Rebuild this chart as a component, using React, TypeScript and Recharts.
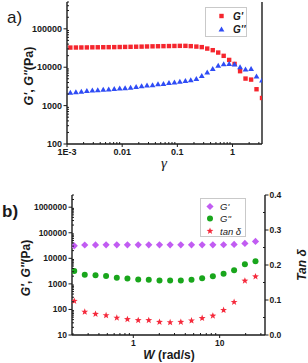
import React from "react";
import { ScatterChart, Scatter, XAxis, YAxis, Legend } from "recharts";

// ---- panel a) strain sweep ----
const strain = [
  0.00115, 0.00145, 0.00182, 0.00229, 0.00288, 0.00361, 0.00454, 0.0057, 0.00718,
  0.00902, 0.0113, 0.0142, 0.0179, 0.0225, 0.0282, 0.0355, 0.0446, 0.056, 0.0705,
  0.0885, 0.111, 0.14, 0.175, 0.221, 0.277, 0.348, 0.438, 0.55, 0.691, 0.869, 1.09,
  1.37, 1.72, 2.17, 2.72, 3.42,
];
const storageA = [
  32500, 32600, 32700, 32800, 33000, 33100, 33200, 33300, 33400, 33600, 33800, 34000,
  34200, 34400, 34700, 35000, 35200, 35400, 35600, 35800, 36000, 36000, 35400, 34500,
  33400, 30600, 27800, 24100, 19800, 15500, 12200, 7880, 5060, 4760, 2670, 1580,
];
const lossA = [
  2150, 2230, 2300, 2400, 2460, 2520, 2570, 2610, 2720, 2770, 2840, 2940, 3070, 3200,
  3320, 3400, 3610, 3680, 3900, 4020, 4200, 4380, 4590, 4960, 5950, 7250, 9050, 11000,
  12000, 12200, 11700, 10000, 8680, 8940, 5700, 4480,
];

// ---- panel b) frequency sweep ----
const freq = [
  0.207, 0.274, 0.365, 0.484, 0.644, 0.855, 1.14, 1.51, 2.01, 2.67, 3.55, 4.72, 6.27,
  8.34, 11.1, 14.7, 19.6, 26.0,
];
const storageB = [
  30800, 33200, 33500, 33600, 33600, 33600, 33600, 33600, 33600, 33600, 33600, 33600,
  33600, 33600, 34000, 35000, 38200, 45700,
];
const lossB = [
  3200, 2300, 2200, 2050, 1750, 1620, 1500, 1460, 1350, 1350, 1360, 1450, 1650, 2000,
  2500, 3400, 5900, 7700,
];
const tanDelta = [
  0.097, 0.066, 0.06, 0.056, 0.049, 0.045, 0.042, 0.042, 0.037, 0.036, 0.037, 0.041,
  0.048, 0.055, 0.071, 0.094, 0.155, 0.167,
];

// ---- ticks ----
const strainTicks = [
  0.001, 0.002, 0.003, 0.004, 0.005, 0.006, 0.007, 0.008, 0.009, 0.01, 0.02, 0.03, 0.04,
  0.05, 0.06, 0.07, 0.08, 0.09, 0.1, 0.2, 0.3, 0.4, 0.5, 0.6, 0.7, 0.8, 0.9, 1, 2, 3,
];
const strainLabels: Record<string, string> = { "0.001": "1E-3", "0.01": "0.01", "0.1": "0.1", "1": "1" };
const modA_Ticks = [
  100, 200, 300, 400, 500, 600, 700, 800, 900, 1000, 2000, 3000, 4000, 5000, 6000, 7000,
  8000, 9000, 10000, 20000, 30000, 40000, 50000, 60000, 70000, 80000, 90000, 100000,
  200000, 300000, 400000, 500000,
];
const modA_Labels: Record<string, string> = { "100": "100", "1000": "1000", "10000": "10000", "100000": "100000" };
const freqTicks = [
  0.2, 0.3, 0.4, 0.5, 0.6, 0.7, 0.8, 0.9, 1, 2, 3, 4, 5, 6, 7, 8, 9, 10, 20, 30,
];
const freqLabels: Record<string, string> = { "1": "1", "10": "10" };
const modB_Ticks = [
  10, 20, 30, 40, 50, 60, 70, 80, 90, 100, 200, 300, 400, 500, 600, 700, 800, 900, 1000,
  2000, 3000, 4000, 5000, 6000, 7000, 8000, 9000, 10000, 20000, 30000, 40000, 50000,
  60000, 70000, 80000, 90000, 100000, 200000, 300000, 400000, 500000, 600000, 700000,
  800000, 900000, 1000000, 2000000, 3000000,
];
const modB_Labels: Record<string, string> = {
  "10": "10", "100": "100", "1000": "1000", "10000": "10000", "100000": "100000", "1000000": "1000000",
};
const tanTicks = [0, 0.05, 0.1, 0.15, 0.2, 0.25, 0.3, 0.35, 0.4];
const tanLabels: Record<string, string> = { "0": "0.0", "0.1": "0.1", "0.2": "0.2", "0.3": "0.3", "0.4": "0.4" };

const FONT = "'Liberation Sans', Arial, sans-serif";
const INK = "#1a1a1a";
const RED = "#f5262e";
const BLUE = "#2f4cf5";
const PURPLE = "#c15cf2";
const GREEN = "#19a61c";
const STAR_RED = "#f52a3c";

const pairs = (xs: number[], ys: number[]) => xs.map((x, i) => ({ x, y: ys[i] }));

// markers
const Square = ({ cx, cy }: any) => <rect x={cx - 2.2} y={cy - 2.2} width={4.4} height={4.4} fill={RED} />;
const Triangle = ({ cx, cy }: any) => (
  <polygon points={`${cx},${cy - 3} ${cx + 2.9},${cy + 2} ${cx - 2.9},${cy + 2}`} fill={BLUE} />
);
const Diamond = ({ cx, cy }: any) => (
  <polygon points={`${cx},${cy - 3.6} ${cx + 3.6},${cy} ${cx},${cy + 3.6} ${cx - 3.6},${cy}`} fill={PURPLE} />
);
const Dot = ({ cx, cy }: any) => <circle cx={cx} cy={cy} r={3} fill={GREEN} />;
const Star = ({ cx, cy }: any) => {
  const pts: string[] = [];
  for (let i = 0; i < 10; i++) {
    const r = i % 2 === 0 ? 3.6 : 1.5;
    const a = -Math.PI / 2 + (i * Math.PI) / 5;
    pts.push(`${cx + r * Math.cos(a)},${cy + r * Math.sin(a)}`);
  }
  return <polygon points={pts.join(" ")} fill={STAR_RED} />;
};

// axis tick: labelled values get an outside tick and text, others a short inside tick
const makeTick = (side: "bottom" | "left" | "right", labels: Record<string, string>, fs: number, gap: number) =>
  (props: any) => {
    const { x, y, payload } = props;
    const text = labels[String(payload.value)];
    const major = text !== undefined;
    const st = { stroke: INK, strokeWidth: 1 };
    if (side === "bottom") {
      return (
        <g>
          {major ? <line x1={x} y1={y} x2={x} y2={y + 3} {...st} /> : <line x1={x} y1={y} x2={x} y2={y - 2} {...st} />}
          {major && (
            <text x={x} y={y + gap + fs * 0.7} textAnchor="middle" fontSize={fs} fontWeight="bold" fontFamily={FONT} fill={INK}>
              {text}
            </text>
          )}
        </g>
      );
    }
    if (side === "left") {
      return (
        <g>
          {major ? <line x1={x - 3.5} y1={y} x2={x} y2={y} {...st} /> : <line x1={x} y1={y} x2={x + 2} y2={y} {...st} />}
          {major && (
            <text x={x - gap} y={y + fs * 0.35} textAnchor="end" fontSize={fs} fontWeight="bold" fontFamily={FONT} fill={INK}>
              {text}
            </text>
          )}
        </g>
      );
    }
    return (
      <g>
        {major ? <line x1={x} y1={y} x2={x + 3.5} y2={y} {...st} /> : <line x1={x - 2} y1={y} x2={x} y2={y} {...st} />}
        {major && (
          <text x={x + gap} y={y + fs * 0.35} textAnchor="start" fontSize={fs} fontWeight="bold" fontFamily={FONT} fill={INK}>
            {text}
          </text>
        )}
      </g>
    );
  };

const axisLine = { stroke: INK, strokeWidth: 1.4 };

const LegendA = () => (
  <div style={{ width: 42, height: 30, border: "1px solid #c9c9c9", boxSizing: "border-box", position: "relative", background: "#fff" }}>
    <svg width={42} height={30} style={{ position: "absolute", left: -1, top: -1 }}>
      <Square cx={16.5} cy={9} />
      <Triangle cx={16.5} cy={22.5} />
      <text x={28} y={12.5} fontSize={10} fontWeight="bold" fontStyle="italic" fontFamily={FONT} fill={INK}>G'</text>
      <text x={28} y={26} fontSize={10} fontWeight="bold" fontStyle="italic" fontFamily={FONT} fill={INK}>G''</text>
    </svg>
  </div>
);

const LegendB = () => (
  <div style={{ width: 46, height: 39, border: "1px solid #c9c9c9", boxSizing: "border-box", position: "relative", background: "#fff" }}>
    <svg width={46} height={39} style={{ position: "absolute", left: -1, top: -1 }}>
      <Diamond cx={10} cy={8.5} />
      <Dot cx={10} cy={20.5} />
      <Star cx={10} cy={33} />
      <text x={20} y={12} fontSize={9.5} fontStyle="italic" fontFamily={FONT} fill={INK}>G'</text>
      <text x={20} y={24} fontSize={9.5} fontStyle="italic" fontFamily={FONT} fill={INK}>G''</text>
      <text x={20} y={36.5} fontSize={9.5} fontStyle="italic" fontFamily={FONT} fill={INK}>tan δ</text>
    </svg>
  </div>
);

const rot = (cx: number, cy: number): React.CSSProperties => ({
  position: "absolute",
  left: cx,
  top: cy,
  transform: "translate(-50%, -50%) rotate(-90deg)",
  whiteSpace: "nowrap",
  fontFamily: FONT,
  fontWeight: "bold",
  color: INK,
  lineHeight: 1,
});

const App = () => {
  const dataA1 = pairs(strain, storageA);
  const dataA2 = pairs(strain, lossA);
  const dataB1 = pairs(freq, storageB);
  const dataB2 = pairs(freq, lossB);
  const dataB3 = pairs(freq, tanDelta);

  return (
    <div style={{ position: "absolute", left: 0, top: 0, width: 308, height: 363, background: "#fff", overflow: "hidden" }}>
      {/* panel a */}
      <div style={{ position: "absolute", left: 0, top: 0 }}>
        <ScatterChart width={308} height={175} margin={{ top: 2, right: 0, bottom: 0, left: 0 }}>
          <XAxis
            xAxisId="b" type="number" dataKey="x" scale="log" domain={[0.001, 3.42]} allowDataOverflow
            ticks={strainTicks} interval={0} tickSize={0} tickMargin={0} tickLine={false}
            tick={makeTick("bottom", strainLabels, 9, 5)} height={31} axisLine={axisLine}
          />
          <XAxis xAxisId="t" orientation="top" type="number" scale="log" domain={[0.001, 3.42]} tick={false} tickLine={false} height={0} axisLine={axisLine} />
          <YAxis
            yAxisId="l" type="number" dataKey="y" scale="log" domain={[100, 500000]} allowDataOverflow
            ticks={modA_Ticks} interval={0} tickSize={0} tickMargin={0} tickLine={false}
            tick={makeTick("left", modA_Labels, 9, 5)} width={67} axisLine={axisLine}
          />
          <YAxis yAxisId="r" orientation="right" type="number" domain={[0, 1]} tick={false} tickLine={false} width={46} axisLine={axisLine} />
          <Legend
            layout="vertical" align="center" verticalAlign="middle"
            wrapperStyle={{ left: 205, top: 7, width: 42, height: 30 }}
            content={() => <LegendA />}
          />
          <Scatter name="G'" data={dataA1} xAxisId="b" yAxisId="l" shape={(p: any) => <Square cx={p.cx} cy={p.cy} />} isAnimationActive={false} />
          <Scatter name="G''" data={dataA2} xAxisId="b" yAxisId="l" shape={(p: any) => <Triangle cx={p.cx} cy={p.cy} />} isAnimationActive={false} />
        </ScatterChart>
      </div>

      {/* panel b */}
      <div style={{ position: "absolute", left: 0, top: 180 }}>
        <ScatterChart width={308} height={183} margin={{ top: 15, right: 0, bottom: 0, left: 0 }}>
          <XAxis
            xAxisId="b" type="number" dataKey="x" scale="log" domain={[0.195, 33.5]} allowDataOverflow
            ticks={freqTicks} interval={0} tickSize={0} tickMargin={0} tickLine={false}
            tick={makeTick("bottom", freqLabels, 8.5, 5)} height={28} axisLine={axisLine}
          />
          <XAxis xAxisId="t" orientation="top" type="number" scale="log" domain={[0.195, 33.5]} tick={false} tickLine={false} height={0} axisLine={axisLine} />
          <YAxis
            yAxisId="l" type="number" dataKey="y" scale="log" domain={[10, 3000000]} allowDataOverflow
            ticks={modB_Ticks} interval={0} tickSize={0} tickMargin={0} tickLine={false}
            tick={makeTick("left", modB_Labels, 8.5, 5)} width={72} axisLine={axisLine}
          />
          <YAxis
            yAxisId="tan" orientation="right" type="number" dataKey="y" domain={[0, 0.4]} allowDataOverflow
            ticks={tanTicks} interval={0} tickSize={0} tickMargin={0} tickLine={false}
            tick={makeTick("right", tanLabels, 8.5, 4.5)} width={43} axisLine={axisLine}
          />
          <Legend
            layout="vertical" align="center" verticalAlign="middle"
            wrapperStyle={{ left: 200, top: 18, width: 46, height: 39 }}
            content={() => <LegendB />}
          />
          <Scatter name="G'" data={dataB1} xAxisId="b" yAxisId="l" shape={(p: any) => <Diamond cx={p.cx} cy={p.cy} />} isAnimationActive={false} />
          <Scatter name="G''" data={dataB2} xAxisId="b" yAxisId="l" shape={(p: any) => <Dot cx={p.cx} cy={p.cy} />} isAnimationActive={false} />
          <Scatter name="tan δ" data={dataB3} xAxisId="b" yAxisId="tan" shape={(p: any) => <Star cx={p.cx} cy={p.cy} />} isAnimationActive={false} />
        </ScatterChart>
      </div>

      {/* panel letters and axis titles */}
      <div style={{ position: "absolute", left: 7, top: 9, fontFamily: FONT, fontSize: 17, color: INK, lineHeight: 1 }}>a)</div>
      <div style={{ position: "absolute", left: 2, top: 203, fontFamily: FONT, fontSize: 17, fontWeight: "bold", color: INK, lineHeight: 1 }}>b)</div>

      <div style={{ ...rot(29, 76), fontSize: 12.5 }}>
        <i>G'</i>, <i>G''</i>(Pa)
      </div>
      <div style={{ ...rot(26, 268), fontSize: 12 }}>
        <i>G'</i>, <i>G''</i>(Pa)
      </div>
      <div style={{ ...rot(302, 265), fontSize: 12 }}>
        <i>Tan δ</i>
      </div>

      <div style={{ position: "absolute", left: 164, top: 163, transform: "translate(-50%, -50%)", fontFamily: "'Liberation Serif', serif", fontStyle: "italic", fontSize: 15, color: INK, lineHeight: 1 }}>
        γ
      </div>
      <div style={{ position: "absolute", left: 169, top: 355, transform: "translate(-50%, -50%)", fontFamily: FONT, fontWeight: "bold", fontSize: 12, color: INK, lineHeight: 1, whiteSpace: "nowrap" }}>
        <i>W</i> (rad/s)
      </div>
    </div>
  );
};

export default App;
